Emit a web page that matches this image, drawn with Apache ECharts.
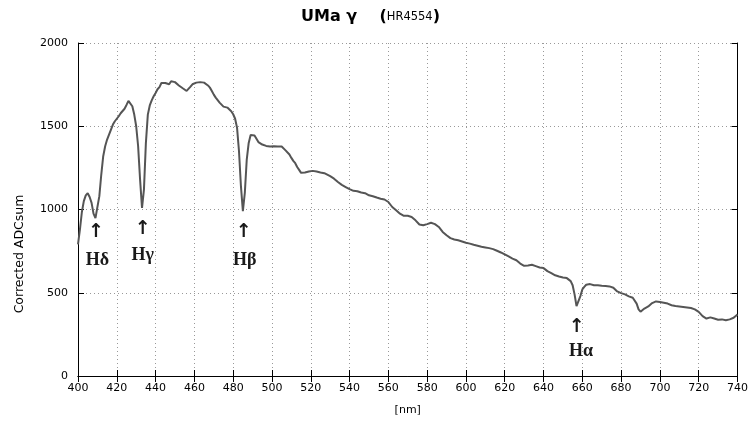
<!DOCTYPE html>
<html>
<head>
<meta charset="utf-8">
<script src="https://cdn.jsdelivr.net/npm/echarts@6/dist/echarts.min.js"></script>
<style>html,body{margin:0;padding:0;background:#fff}#c{width:751px;height:423px}</style>
</head>
<body>
<div id="c"></div>
<script>
const wavelength = [400,401,402,403,404,405,406,407,408,409,410,411,412,413,414,415,416,417,418,419,420,421,422,423,424,425,426,427,428,429,430,431,432,433,434,435,436,437,438,439,440,441,442,443,444,445,446,447,448,449,450,451,452,453,454,455,456,457,458,459,460,461,462,463,464,465,466,467,468,469,470,471,472,473,474,475,476,477,478,479,480,481,482,483,484,485,486,487,488,489,490,491,492,493,494,495,496,497,498,499,500,501,502,503,504,505,506,507,508,509,510,511,512,513,514,515,516,517,518,519,520,521,522,523,524,525,526,527,528,530,532,534,536,538,540,542,544,546,548,550,552,554,556,558,560,562,564,566,568,570,572,574,576,578,580,582,584,586,588,590,592,594,596,598,600,602,604,606,608,610,612,614,616,618,620,622,624,626,628,630,632,634,636,638,640,642,644,646,648,650,652,653,654,655,656,657,658,659,660,661,662,664,666,668,670,672,674,676,678,680,682,684,686,688,689,690,691,692,694,696,698,700,702,704,706,708,710,712,714,716,718,720,722,724,726,728,730,732,734,736,738,740];
const adcSum = [790,880,985,1050,1085,1098,1075,1040,975,948,955,1080,1210,1320,1380,1420,1450,1480,1510,1530,1545,1560,1578,1590,1605,1628,1652,1640,1620,1570,1500,1380,1180,1010,1120,1400,1570,1625,1655,1680,1700,1722,1735,1760,1772,1760,1765,1752,1770,1775,1765,1758,1745,1735,1728,1718,1712,1710,1738,1752,1760,1762,1758,1765,1768,1762,1760,1745,1732,1712,1690,1672,1660,1642,1630,1618,1608,1612,1605,1590,1572,1545,1490,1350,1140,990,1100,1300,1400,1448,1460,1445,1425,1405,1398,1390,1380,1382,1375,1378,1372,1380,1385,1378,1385,1378,1368,1355,1345,1330,1310,1292,1278,1255,1238,1220,1214,1222,1230,1228,1236,1232,1236,1228,1225,1222,1230,1218,1220,1200,1185,1165,1148,1135,1122,1112,1110,1102,1098,1085,1080,1072,1065,1060,1045,1015,995,975,962,962,955,935,910,905,912,920,912,895,865,845,828,820,815,808,800,795,788,782,776,772,768,762,752,742,730,718,705,695,675,662,664,668,660,652,648,630,618,605,598,592,588,585,570,545,490,420,412,480,520,535,548,552,545,545,542,540,538,530,508,498,490,478,470,435,400,386,390,405,418,438,448,445,440,435,425,420,418,415,412,408,400,385,360,345,352,345,338,340,335,340,350,370];

const lineNames = ['Hδ','Hγ','Hβ','Hα'];
const arrowX = [409.3,433.3,485.4,657.1];
const arrowY = [865,883,865,294];
const labelX = [410,433.3,485.9,659.3];
const labelY = [697,727,697,150];

const xTicks = {min:400, max:740, interval:20};
const yTicks = {min:0, max:2000, interval:500};

const series = wavelength.map((w,i)=>[w, adcSum[i]]);

const chart = echarts.init(document.getElementById('c'), null, {renderer:'canvas'});
const axisLineStyle = {show:true, lineStyle:{color:'#000', width:1}};
const tickStyle = {show:true, inside:true, length:6, lineStyle:{color:'#000'}};
const splitStyle = {show:true, lineStyle:{color:'#999', type:[1,3], width:1}};
chart.setOption({
  animation:false,
  backgroundColor:'#fff',
  title:{
    text:'{b|UMa γ    (}{s|HR4554}{b|)}',
    left:301, top:9, padding:0,
    textStyle:{rich:{
      b:{fontFamily:'DejaVu Sans', fontWeight:'bold', fontSize:16, color:'#000'},
      s:{fontFamily:'DejaVu Sans', fontWeight:'normal', fontSize:11.5, color:'#000'}
    }}
  },
  grid:{left:78, right:13, top:43, bottom:47, containLabel:false},
  xAxis:[{
    type:'value', min:xTicks.min, max:xTicks.max, interval:xTicks.interval,
    name:'[nm]', nameLocation:'middle', nameGap:29,
    nameTextStyle:{fontFamily:'DejaVu Sans', fontSize:11, color:'#000'},
    axisLine:axisLineStyle, axisTick:tickStyle, splitLine:splitStyle,
    axisLabel:{fontFamily:'DejaVu Sans', fontSize:11, color:'#000', margin:7, formatter:v=>String(v)}
  },{
    type:'value', position:'top', min:xTicks.min, max:xTicks.max, interval:xTicks.interval,
    axisLine:axisLineStyle, axisTick:tickStyle, splitLine:{show:false}, axisLabel:{show:false}
  }],
  yAxis:[{
    type:'value', min:yTicks.min, max:yTicks.max, interval:yTicks.interval,
    axisLine:axisLineStyle, axisTick:tickStyle, splitLine:splitStyle,
    axisLabel:{fontFamily:'DejaVu Sans', fontSize:11, color:'#000', margin:10, formatter:v=>String(v)}
  },{
    type:'value', position:'right', min:yTicks.min, max:yTicks.max, interval:yTicks.interval,
    axisLine:axisLineStyle, axisTick:tickStyle, splitLine:{show:false}, axisLabel:{show:false}
  }],
  graphic:[{
    type:'text', x:20, y:254, rotation:Math.PI/2,
    style:{text:'Corrected ADCsum', fontFamily:'DejaVu Sans', fontSize:12.5, fill:'#000', align:'center', verticalAlign:'middle'}
  }],
  series:[{
    type:'line', data:series, showSymbol:false, symbol:'none',
    lineStyle:{color:'#555', width:2}, z:3
  },{
    type:'scatter', symbolSize:0, itemStyle:{opacity:1},
    data:arrowX.map((x,i)=>[x, arrowY[i]]),
    label:{show:true, position:'inside', formatter:'↑', fontFamily:'DejaVu Sans', fontWeight:'bold', fontSize:19, color:'#1a1a1a', opacity:1}
  },{
    type:'scatter', symbolSize:0, itemStyle:{opacity:1},
    data:labelX.map((x,i)=>({value:[x, labelY[i]], name:lineNames[i]})),
    label:{show:true, position:'inside', formatter:p=>p.name, fontFamily:'Liberation Serif', fontWeight:'bold', fontSize:18, color:'#1a1a1a', opacity:1}
  }]
});
</script>
</body>
</html>
